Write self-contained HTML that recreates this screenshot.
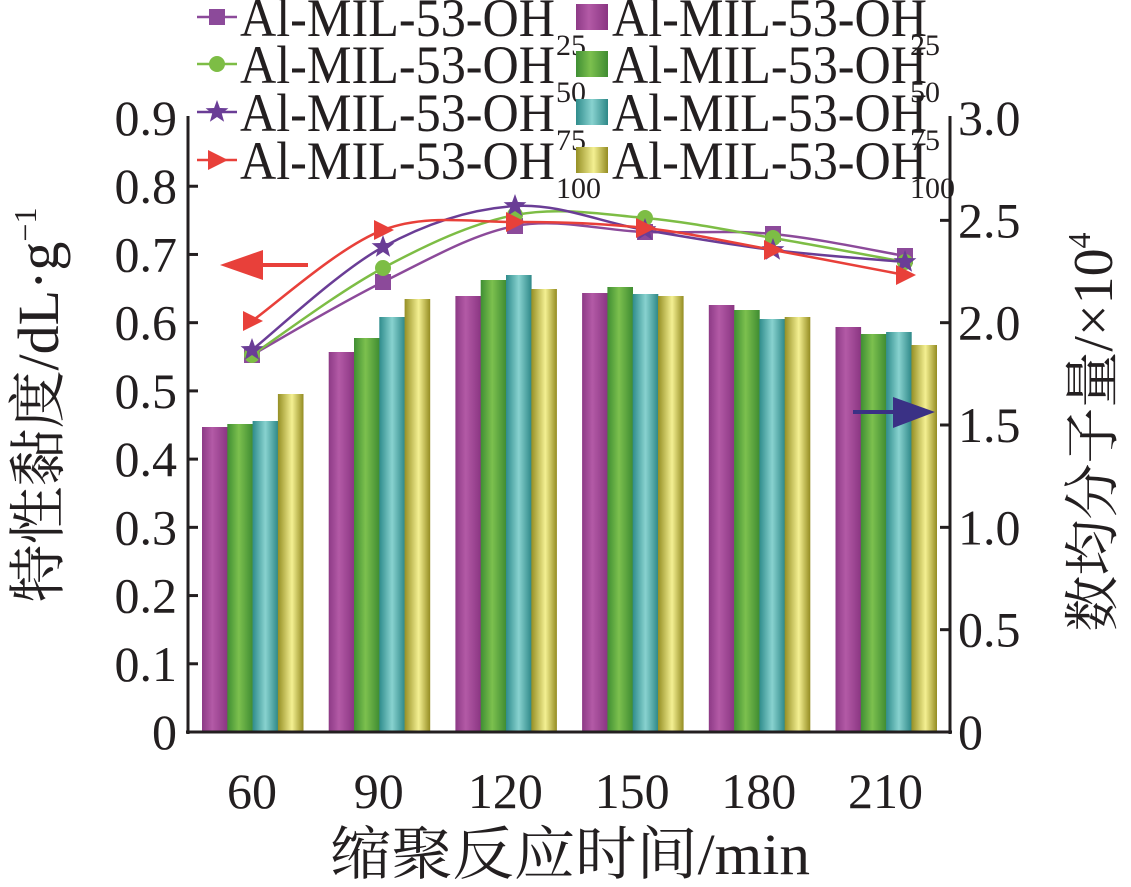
<!DOCTYPE html>
<html><head><meta charset="utf-8"><style>
html,body{margin:0;padding:0;background:#fff;width:1131px;height:887px;overflow:hidden}
text{font-family:"Liberation Serif","Noto Serif CJK SC",serif;fill:#231f20}
</style></head><body>
<svg id="s" width="1131" height="887" viewBox="0 0 1131 887" xmlns="http://www.w3.org/2000/svg">
<defs>
<linearGradient id="gp" x1="0" x2="1"><stop offset="0" stop-color="#8d3a86"/><stop offset=".4" stop-color="#b35aa6"/><stop offset="1" stop-color="#8a3582"/></linearGradient>
<linearGradient id="gg" x1="0" x2="1"><stop offset="0" stop-color="#3f8e33"/><stop offset=".45" stop-color="#7cc04e"/><stop offset="1" stop-color="#3f8c32"/></linearGradient>
<linearGradient id="gc" x1="0" x2="1"><stop offset="0" stop-color="#2f8c8c"/><stop offset=".5" stop-color="#88d2cf"/><stop offset="1" stop-color="#2e8888"/></linearGradient>
<linearGradient id="gy" x1="0" x2="1"><stop offset="0" stop-color="#958f25"/><stop offset=".55" stop-color="#f4f092"/><stop offset="1" stop-color="#948c22"/></linearGradient>
</defs>
<g id="bars"></g>
<g id="lines" fill="none" stroke-width="2.5"></g>
<g stroke="#231f20" stroke-width="3" fill="none">
<line x1="188" y1="116" x2="188" y2="734"/>
<line x1="950" y1="116" x2="950" y2="734"/>
<line x1="186" y1="732" x2="952" y2="732"/>
</g>
<g id="ticks" stroke="#231f20" stroke-width="3"></g>
<g id="lab" font-size="50"></g>
<line x1="308" y1="265" x2="255" y2="265" stroke="#e8403a" stroke-width="4"/>
<polygon points="220,265 263,250 263,280" fill="#e8403a"/>
<line x1="853" y1="412" x2="900" y2="412" stroke="#3a3185" stroke-width="4"/>
<polygon points="935,412 893,397 893,428" fill="#3a3185"/>
<g id="leg" font-size="54"></g>
<text x="330" y="874" font-size="58" textLength="480" lengthAdjust="spacingAndGlyphs">缩聚反应时间/min</text>
<text transform="translate(58,405) rotate(-90)" font-size="58" text-anchor="middle">特性黏度/dL·g<tspan dy="-22" font-size="32">−1</tspan></text>
<text transform="translate(1112,432) rotate(-90)" font-size="56" text-anchor="middle">数均分子量/×10<tspan dy="-22" font-size="32">4</tspan></text>
</svg>
<script>
const NS="http://www.w3.org/2000/svg";
function el(p,t,a,txt){const e=document.createElementNS(NS,t);for(const k in a)e.setAttribute(k,a[k]);if(txt!=null)e.textContent=txt;document.getElementById(p).appendChild(e);return e;}
const fills=["url(#gp)","url(#gg)","url(#gc)","url(#gy)"];
const tops=[[427,424,421,394],[352,338,317,299],[296,280,275,289],[293,287,294,296],[305,310,319,317],[327,334,332,345]];
for(let i=0;i<6;i++)for(let j=0;j<4;j++){const x=202+i*126.7+j*25.3;el("bars","rect",{x:x,y:tops[i][j],width:25.6,height:732-tops[i][j],fill:fills[j]});}
for(let k=1;k<9;k++){const y=732-k*68.22;el("ticks","line",{x1:188,y1:y,x2:198,y2:y});}
for(let k=1;k<6;k++){const y=732-k*102.33;el("ticks","line",{x1:950,y1:y,x2:940,y2:y});}
const ll=["0","0.1","0.2","0.3","0.4","0.5","0.6","0.7","0.8","0.9"];
ll.forEach((t,k)=>el("lab","text",{x:177,y:732-k*68.22+17,"text-anchor":"end"},t));
["0","0.5","1.0","1.5","2.0","2.5","3.0"].forEach((t,k)=>el("lab","text",{x:958,y:732-k*102.33+17},t));
["60","90","120","150","180","210"].forEach((t,i)=>el("lab","text",{x:252+i*126.7,y:808,"text-anchor":"middle"},t));
const xs=[252,383,515,645,773,905];
const S=[
 {c:"#8c4a9a",y:[355,282,226,232,234,256],m:"sq"},
 {c:"#7dbd45",y:[355,268,215,218,238,262],m:"ci"},
 {c:"#6a3d96",y:[350,247,206,230,250,262],m:"st"},
 {c:"#e8403a",y:[321,230,222,228,250,275],m:"tr"}];
function path(ys){let d="M"+xs[0]+","+ys[0];for(let i=0;i<5;i++){const p0=[xs[Math.max(i-1,0)],ys[Math.max(i-1,0)]],p1=[xs[i],ys[i]],p2=[xs[i+1],ys[i+1]],p3=[xs[Math.min(i+2,5)],ys[Math.min(i+2,5)]];const c1=[p1[0]+(p2[0]-p0[0])/6,p1[1]+(p2[1]-p0[1])/6],c2=[p2[0]-(p3[0]-p1[0])/6,p2[1]-(p3[1]-p1[1])/6];d+=` C${c1} ${c2} ${p2}`;}return d;}
function marker(g,m,x,y,c){
 if(m=="sq")el(g,"rect",{x:x-8,y:y-8,width:16,height:16,fill:c,stroke:"none"});
 else if(m=="ci")el(g,"circle",{cx:x,cy:y,r:8,fill:c,stroke:"none"});
 else if(m=="st"){let p=[];for(let k=0;k<10;k++){const r=k%2?5:12,a=-Math.PI/2+k*Math.PI/5;p.push((x+r*Math.cos(a)).toFixed(1)+","+(y+r*Math.sin(a)).toFixed(1));}el(g,"polygon",{points:p.join(" "),fill:c,stroke:"none"});}
 else el(g,"polygon",{points:`${x-9},${y-10} ${x+11},${y} ${x-9},${y+10}`,fill:c,stroke:"none"});
}
S.forEach(s=>{el("lines","path",{d:path(s.y),stroke:s.c});s.y.forEach((y,i)=>marker("lines",s.m,xs[i],y,s.c));});
const rows=[["25",17],["50",64],["75",112],["100",160]];
rows.forEach((r,i)=>{const y=r[1];const s=S[i];
 el("leg","line",{x1:197,y1:y,x2:237,y2:y,stroke:s.c,"stroke-width":2.5});marker("leg",s.m,217,y,s.c);
 el("leg","text",{x:240,y:y+19,textLength:315,lengthAdjust:"spacingAndGlyphs"},"Al-MIL-53-OH");
 el("leg","text",{x:556,y:y+38,"font-size":30},r[0]);
 el("leg","rect",{x:576,y:y-13,width:32,height:26,fill:fills[i]});
 el("leg","text",{x:612,y:y+19,textLength:315,lengthAdjust:"spacingAndGlyphs"},"Al-MIL-53-OH");
 el("leg","text",{x:910,y:y+38,"font-size":30},r[0]);
});
</script>
</body></html>
